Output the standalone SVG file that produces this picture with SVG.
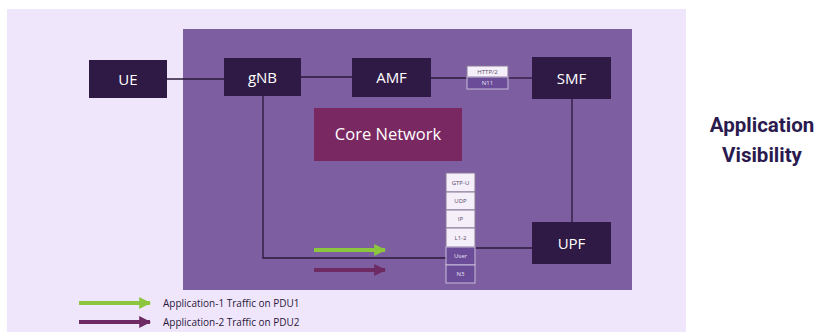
<svg xmlns="http://www.w3.org/2000/svg" width="819" height="332" viewBox="0 0 819 332">
<defs>
<style>
.node{fill:#2f1a45}
.lbl{fill:#ffffff;font-family:"Open Sans","Noto Sans",sans-serif;font-size:15px;text-anchor:middle}
.ln{stroke:#2a1838;stroke-width:1.3;fill:none}
.cellL{fill:#f4eff8;stroke:#8a7a99;stroke-width:1}
.cellD{fill:#6a4c98;stroke:#c9bcd8;stroke-width:1}
.ct{font-family:"Open Sans","Noto Sans",sans-serif;font-size:6px;text-anchor:middle}
.leg{font-family:"Open Sans","Noto Sans",sans-serif;font-size:10px;fill:#2a1838}
</style>
<marker id="ag" viewBox="0 0 10 10" refX="9" refY="5" markerWidth="3" markerHeight="3" orient="auto" markerUnits="strokeWidth"><path d="M0,0 L10,5 L0,10 Z" fill="#8cc63f"/></marker>
<marker id="ap" viewBox="0 0 10 10" refX="9" refY="5" markerWidth="3" markerHeight="3" orient="auto" markerUnits="strokeWidth"><path d="M0,0 L10,5 L0,10 Z" fill="#6e2a62"/></marker>
</defs>
<rect x="0" y="0" width="819" height="332" fill="#ffffff"/>
<rect x="7" y="9" width="679" height="323" fill="#f0e6fc"/>
<rect x="183" y="29" width="449" height="261" fill="#7d5fa1"/>
<g id="connectors">
<line class="ln" x1="167" y1="79" x2="224" y2="79"/>
<line class="ln" x1="301" y1="77" x2="352" y2="77"/>
<line class="ln" x1="431" y1="78" x2="467" y2="78"/>
<line class="ln" x1="508" y1="78" x2="532" y2="78"/>
<line class="ln" x1="572" y1="99" x2="572" y2="222"/>
<polyline class="ln" points="263,96 263,258 446,258"/>
<line class="ln" x1="475" y1="248" x2="532" y2="248"/>
<line x1="314" y1="250" x2="385" y2="250" stroke="#8cc63f" stroke-width="4" marker-end="url(#ag)"/>
<line x1="314" y1="270" x2="385" y2="270" stroke="#6e2a62" stroke-width="4" marker-end="url(#ap)"/>
</g>
<g id="UE"><rect class="node" x="89" y="60" width="78" height="38"/><text class="lbl" x="128" y="84.5">UE</text></g>
<g id="gNB"><rect class="node" x="224" y="58" width="77" height="38"/><text class="lbl" x="262.5" y="82.5">gNB</text></g>
<g id="AMF"><rect class="node" x="352" y="58" width="79" height="39"/><text class="lbl" x="391.5" y="83">AMF</text></g>
<g id="SMF"><rect class="node" x="532" y="57" width="79" height="42"/><text class="lbl" x="571.5" y="83.5">SMF</text></g>
<g id="UPF"><rect class="node" x="532" y="222" width="79" height="42"/><text class="lbl" x="571.5" y="248.5">UPF</text></g>
<g id="CoreNetwork"><rect x="314" y="108" width="148" height="53" fill="#7a2862"/><text class="lbl" x="388" y="140" style="font-size:16.5px">Core Network</text></g>
<g id="N11">
<rect class="cellL" x="467" y="66" width="41" height="11"/><text class="ct" x="487.5" y="73.5" fill="#5a4a6a">HTTP/2</text>
<rect class="cellD" x="467" y="77" width="41" height="12"/><text class="ct" x="487.5" y="85" fill="#e8e0f0">N11</text>
</g>
<g id="N3stack">
<rect class="cellL" x="446" y="173" width="29" height="19"/><text class="ct" x="460.5" y="184.5" fill="#5a4a6a">GTP-U</text>
<rect class="cellL" x="446" y="192" width="29" height="18"/><text class="ct" x="460.5" y="203" fill="#5a4a6a">UDP</text>
<rect class="cellL" x="446" y="210" width="29" height="18"/><text class="ct" x="460.5" y="221" fill="#5a4a6a">IP</text>
<rect class="cellL" x="446" y="228" width="29" height="19"/><text class="ct" x="460.5" y="239.5" fill="#5a4a6a">L1-2</text>
<rect class="cellD" x="446" y="247" width="29" height="18"/><text class="ct" x="460.5" y="258" fill="#e8e0f0">User</text>
<rect class="cellD" x="446" y="265" width="29" height="18"/><text class="ct" x="460.5" y="276" fill="#e8e0f0">N3</text>
</g>
<g id="legend">
<line x1="79" y1="303" x2="150" y2="303" stroke="#8cc63f" stroke-width="4" marker-end="url(#ag)"/>
<text class="leg" x="163" y="306.5">Application-1 Traffic on PDU1</text>
<line x1="79" y1="322" x2="150" y2="322" stroke="#6e2a62" stroke-width="4" marker-end="url(#ap)"/>
<text class="leg" x="163" y="325.5">Application-2 Traffic on PDU2</text>
</g>
<g id="title">
<text x="762" y="132" font-family="Roboto,'Liberation Sans',sans-serif" font-weight="bold" font-size="20.5" fill="#2a1a4e" text-anchor="middle">Application</text>
<text x="762" y="162" font-family="Roboto,'Liberation Sans',sans-serif" font-weight="bold" font-size="20.5" fill="#2a1a4e" text-anchor="middle">Visibility</text>
</g>
</svg>
